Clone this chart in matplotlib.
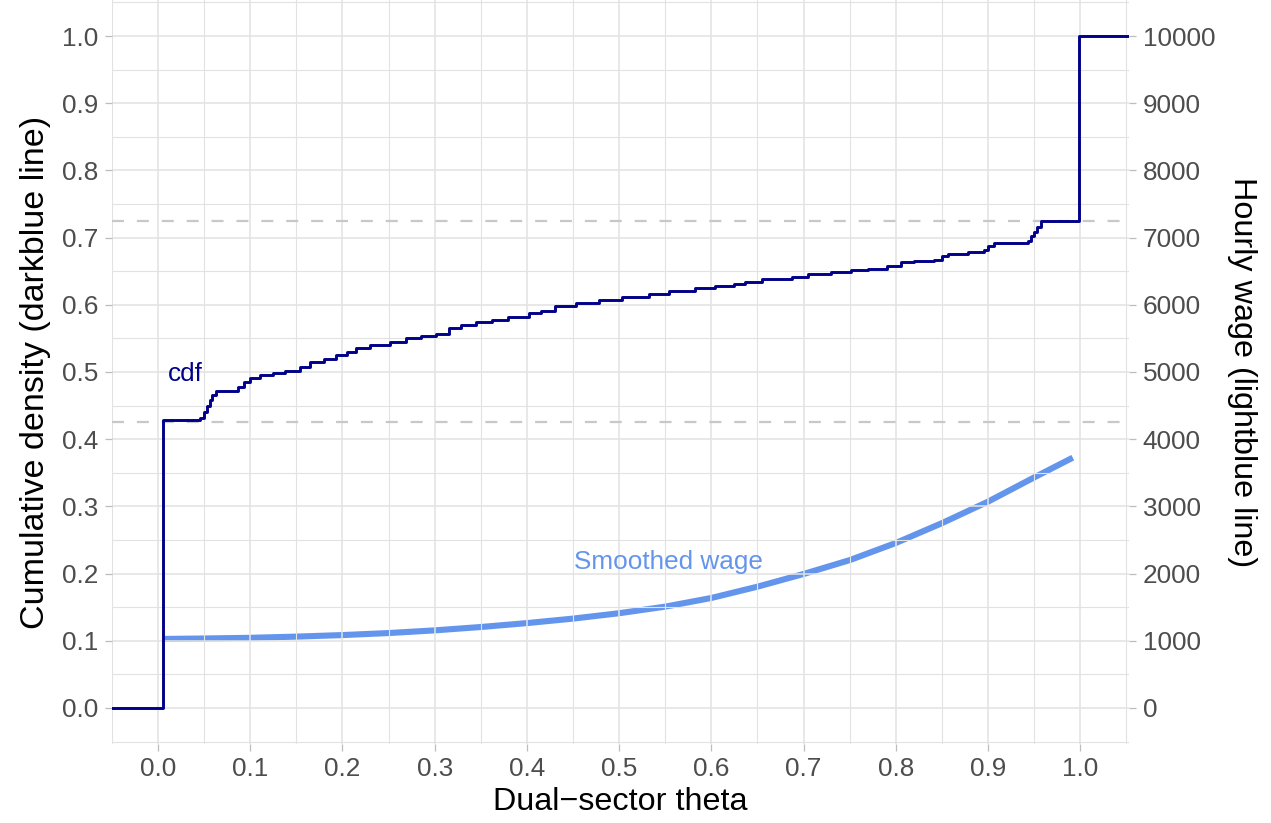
import matplotlib.pyplot as plt
import numpy as np

plt.rcParams['font.family'] = ['Liberation Sans', 'DejaVu Sans']

# cdf of dual-sector theta, step points (x where the level changes, new level)
cdf_x = [-0.05, 0.005, 0.046, 0.050, 0.053, 0.056, 0.059, 0.063, 0.080, 0.087,
         0.093, 0.100, 0.111, 0.125, 0.138, 0.154, 0.165, 0.180, 0.193, 0.205,
         0.215, 0.230, 0.252, 0.269, 0.285, 0.301, 0.316, 0.328, 0.345, 0.362,
         0.380, 0.402, 0.415, 0.431, 0.453, 0.478, 0.503, 0.532, 0.554, 0.582,
         0.604, 0.625, 0.636, 0.655, 0.687, 0.705, 0.730, 0.752, 0.770, 0.790,
         0.806, 0.820, 0.842, 0.850, 0.857, 0.878, 0.896, 0.900, 0.907, 0.943,
         0.947, 0.950, 0.953, 0.957, 0.999, 1.06]
cdf_y = [0.0, 0.428, 0.432, 0.440, 0.450, 0.458, 0.466, 0.471, 0.472, 0.478,
         0.485, 0.491, 0.496, 0.499, 0.502, 0.507, 0.515, 0.520, 0.525, 0.530,
         0.536, 0.540, 0.544, 0.550, 0.553, 0.557, 0.565, 0.570, 0.574, 0.578,
         0.582, 0.588, 0.591, 0.598, 0.602, 0.607, 0.611, 0.616, 0.620, 0.625,
         0.628, 0.631, 0.634, 0.638, 0.641, 0.646, 0.649, 0.652, 0.654, 0.658,
         0.663, 0.665, 0.667, 0.672, 0.676, 0.679, 0.682, 0.687, 0.692, 0.695,
         0.702, 0.708, 0.716, 0.724, 1.000, 1.000]

# smoothed hourly wage
wage_x = [0.005, 0.05, 0.10, 0.15, 0.20, 0.25, 0.30, 0.35, 0.40, 0.45, 0.50,
          0.55, 0.60, 0.65, 0.70, 0.75, 0.80, 0.85, 0.90, 0.95, 0.992]
wage_y = [1027, 1034, 1044, 1062, 1085, 1115, 1155, 1205, 1263, 1330, 1410,
          1508, 1637, 1805, 1994, 2200, 2455, 2750, 3070, 3430, 3725]

hlines = [0.425, 0.725]

fig = plt.figure(figsize=(12.71, 8.23), dpi=100)
ax = fig.add_axes([0.0881, 0.096, 0.8002, 0.904])
ax2 = ax.twinx()

grid_c = '#E2E2E2'
ax.set_xlim(-0.046, 1.053)
ax.set_ylim(-0.0536, 1.0536)
ax2.set_ylim(-536, 10536)

ax.set_xticks(np.arange(0, 1.01, 0.1))
ax.set_xticks(np.arange(-0.05, 1.06, 0.1), minor=True)
ax.set_yticks(np.arange(0, 1.01, 0.1))
ax.set_yticks(np.arange(-0.05, 1.06, 0.1), minor=True)
ax.set_xticklabels([f'{v:.1f}' for v in np.arange(0, 1.01, 0.1)])
ax.set_yticklabels([f'{v:.1f}' for v in np.arange(0, 1.01, 0.1)])
ax2.set_yticks(np.arange(0, 10001, 1000))
ax2.set_yticklabels([str(v) for v in range(0, 10001, 1000)])

ax.grid(which='major', color=grid_c, lw=1.1)
ax.grid(which='minor', color=grid_c, lw=0.8)
ax.set_axisbelow(True)

for a in (ax, ax2):
    for s in a.spines.values():
        s.set_visible(False)
    a.tick_params(which='major', length=5.2, width=0.9, color='#BDBDBD',
                  labelsize=18.8, labelcolor='#4D4D4D', pad=4.5)
    a.tick_params(which='minor', length=0)

for h in hlines:
    ax.axhline(h, color='#C8C8C8', lw=1.6, dashes=(5.4, 5.8), zorder=1)

ax2.plot(wage_x, wage_y, color='#6495ED', lw=4.4, solid_capstyle='butt')
ax.step(cdf_x, cdf_y, where='post', color='#00008B', lw=2.1, zorder=3)
ax.set_zorder(ax2.get_zorder() + 1)
ax.patch.set_visible(False)

ax.text(0.030, 0.497, 'cdf', color='#00008B', fontsize=18.8, ha='center', va='center')
ax.text(0.554, 0.217, 'Smoothed wage', color='#6495ED', fontsize=18.8,
        ha='center', va='center')

ax.set_xlabel('Dual\u2212sector theta', fontsize=23.3, labelpad=4)
ax.set_ylabel('Cumulative density (darkblue line)', fontsize=24.5, labelpad=8)
ax2.set_ylabel('Hourly wage (lightblue line)', fontsize=23.3, rotation=270,
               labelpad=30)

fig.savefig('out.png', dpi=100)
